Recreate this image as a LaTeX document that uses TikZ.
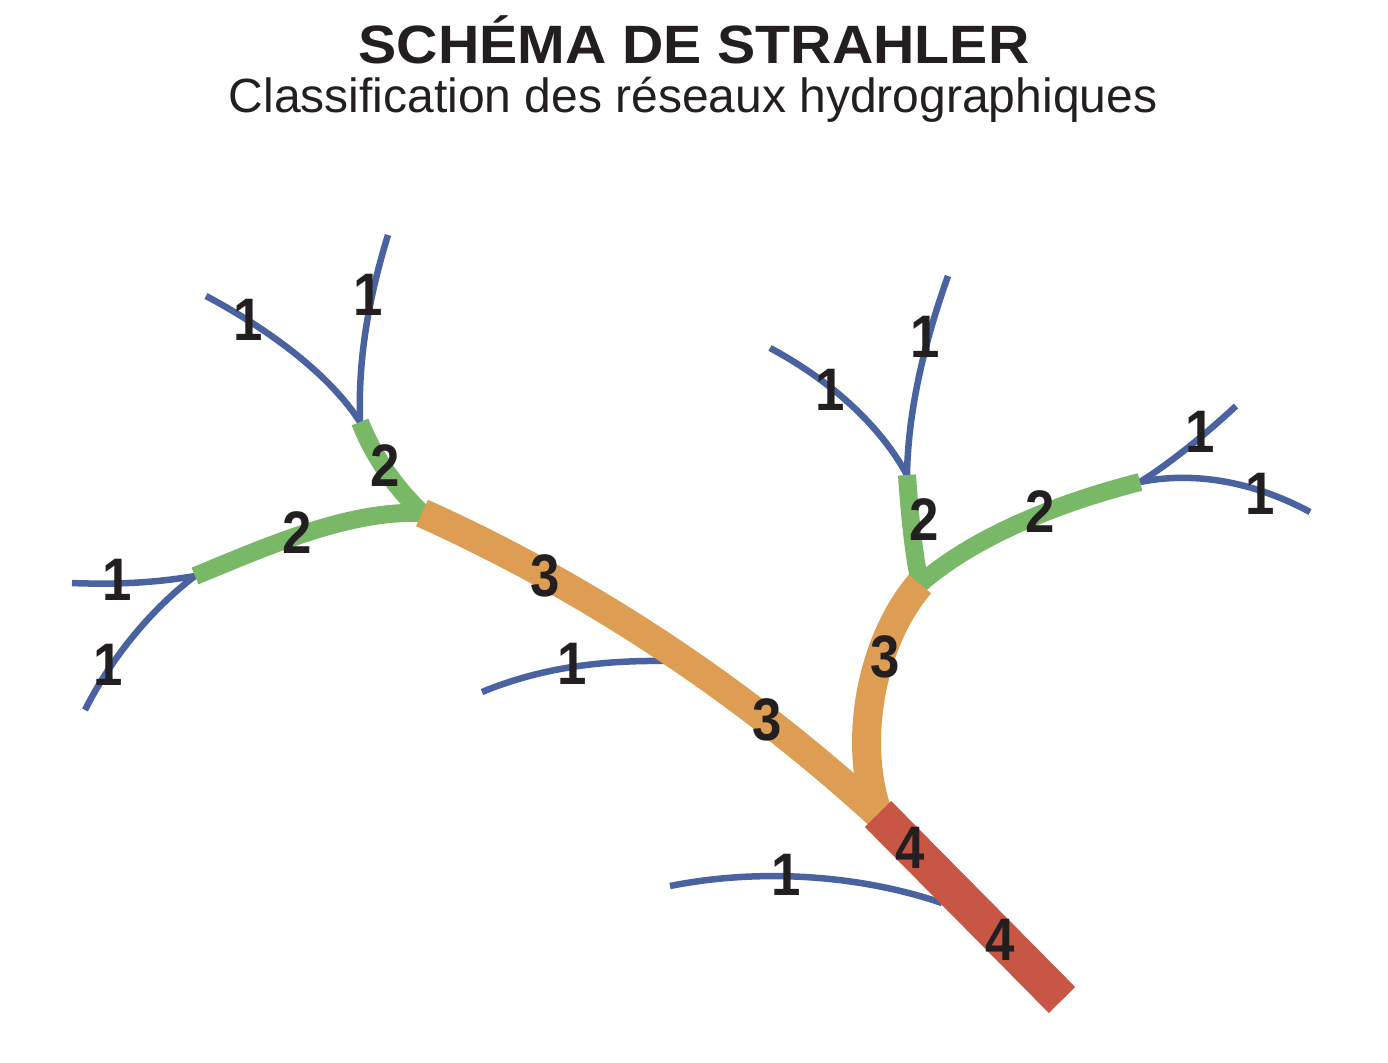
\documentclass[tikz,border=0pt]{standalone}
\usepackage{fontspec}
\setmainfont{Liberation Sans}
\definecolor{cblue}{HTML}{4A63A0}
\definecolor{cgreen}{HTML}{78B867}
\definecolor{corange}{HTML}{DD9D52}
\definecolor{cred}{HTML}{C75744}
\definecolor{ink}{HTML}{231F20}
\begin{document}
\begin{tikzpicture}[x=1pt,y=-1pt,
  ordone/.style={draw=cblue,line width=6.5pt,line cap=butt},
  ordtwo/.style={draw=cgreen,line width=18pt,line cap=butt},
  ordthree/.style={draw=corange,line width=29pt,line cap=butt},
  ordfour/.style={draw=cred,line width=37pt,line cap=butt},
  lbl/.style={font=\bfseries\fontsize{60}{62}\selectfont,text=ink,inner sep=0pt,xscale=0.88}]
\useasboundingbox[fill=white] (0,0) rectangle (1388,1062);
% titles
\node[anchor=base,font=\bfseries\fontsize{54}{60}\selectfont,text=ink,xscale=1.06] (title) at (694,64) {SCHÉMA DE STRAHLER};
\node[anchor=base,font=\fontsize{48}{54}\selectfont,text=ink] (subtitle) at (693,113) {Classification des réseaux hydrographiques};
% coordinates
\coordinate (a1) at (206,296);
\coordinate (a2) at (388,235);
\coordinate (jA) at (360,422);
\coordinate (jB) at (422,513);
\coordinate (b1) at (72,583);
\coordinate (b2) at (85,710);
\coordinate (jC) at (195,576);
\coordinate (c1) at (482,692);
\coordinate (jD) at (668,661);
\coordinate (jE) at (878,814);
\coordinate (d1) at (770,348);
\coordinate (d2) at (948,276);
\coordinate (jF) at (907,475);
\coordinate (jG) at (920,584);
\coordinate (e1) at (1236,406);
\coordinate (e2) at (1310,512);
\coordinate (jH) at (1140,482);
\coordinate (f1) at (670,886);
\coordinate (jI) at (942,903);
\coordinate (mouth) at (1062,1000);
% order 1
\draw[ordone] (a1) .. controls (270,330) and (330,375) .. (jA);
\draw[ordone] (a2) .. controls (368,300) and (358,360) .. (jA);
\draw[ordone] (b1) .. controls (120,585) and (160,582) .. (jC);
\draw[ordone] (b2) .. controls (110,660) and (150,610) .. (jC);
\draw[ordone] (c1) .. controls (540,668) and (600,660) .. (jD);
\draw[ordone] (d1) .. controls (830,380) and (880,425) .. (jF);
\draw[ordone] (d2) .. controls (925,340) and (908,410) .. (jF);
\draw[ordone] (e1) .. controls (1210,430) and (1175,460) .. (jH);
\draw[ordone] (e2) .. controls (1260,485) and (1200,470) .. (jH);
\draw[ordone] (f1) .. controls (760,868) and (860,875) .. (jI);
% order 2
\draw[ordtwo] (jA) .. controls (375,460) and (398,490) .. (jB);
\draw[ordtwo] (jC) .. controls (270,545) and (350,510) .. (jB);
\draw[ordtwo] (jF) .. controls (910,520) and (914,555) .. (jG);
\draw[ordtwo] (jG) .. controls (970,540) and (1050,505) .. (jH);
% order 3
\draw[ordthree] (jB) .. controls (560,575) and (720,670) .. (jE);
\draw[ordthree] (jG) .. controls (872,640) and (852,740) .. (jE);
% order 4
\draw[ordfour] (jE) -- (mouth);
% labels
\node[lbl] (l1) at (248,320) {1};
\node[lbl] (l2) at (368,295) {1};
\node[lbl] (l3) at (385,466) {2};
\node[lbl] (l4) at (297,533) {2};
\node[lbl] (l5) at (117,580) {1};
\node[lbl] (l6) at (108,665) {1};
\node[lbl] (l7) at (545,576) {3};
\node[lbl] (l8) at (767,720) {3};
\node[lbl] (l9) at (572,664) {1};
\node[lbl] (l10) at (830,390) {1};
\node[lbl] (l11) at (925,337) {1};
\node[lbl] (l12) at (924,520) {2};
\node[lbl] (l13) at (1040,512) {2};
\node[lbl] (l14) at (1200,432) {1};
\node[lbl] (l15) at (1260,494) {1};
\node[lbl] (l16) at (885,657) {3};
\node[lbl] (l17) at (910,848) {4};
\node[lbl] (l18) at (1000,940) {4};
\node[lbl] (l19) at (786,875) {1};
\end{tikzpicture}
\end{document}
